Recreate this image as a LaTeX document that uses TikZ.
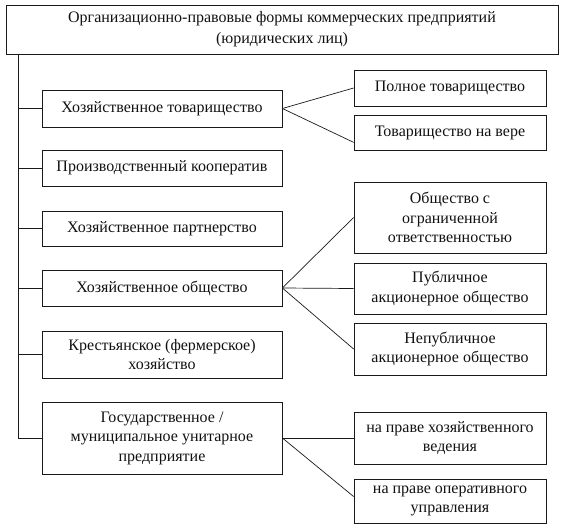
\documentclass[tikz,border=0pt]{standalone}
\usepackage{fontspec}
\setmainfont{Liberation Serif}
\usepackage{xcolor}
\usepackage{tikz}
\usetikzlibrary{positioning,calc}
\definecolor{LineDark}{HTML}{1A1A1A}
\definecolor{TextDark}{HTML}{111111}

\begin{document}
\begin{tikzpicture}[x=1pt,y=1pt,
    every node/.style={font=\fontsize{16}{19.5}\selectfont, text=TextDark},
    formbox/.style={draw=LineDark, line width=0.8pt, align=center, inner sep=0pt},
    leftbox/.style={formbox, minimum width=240pt},
    rightbox/.style={formbox, minimum width=192pt},
    link/.style={draw=LineDark, line width=0.7pt}]
      \useasboundingbox (0,0) rectangle (564,-530);
      % header
      \node[formbox, minimum width=552pt, minimum height=49pt,
            font=\fontsize{16}{21}\selectfont] (root) at (282,-29.5)
        {Организационно-правовые формы коммерческих предприятий\\(юридических лиц)};
      % left column
      \node[leftbox, minimum height=37pt] (tov)   at (162,-108.5) {Хозяйственное товарищество};
      \node[leftbox, minimum height=36pt] (koop)  at (162,-168)   {Производственный кооператив};
      \node[leftbox, minimum height=35pt] (partn) at (162,-228.5) {Хозяйственное партнерство};
      \node[leftbox, minimum height=36pt] (obsh)  at (162,-288)   {Хозяйственное общество};
      \node[leftbox, minimum height=47pt] (kfh)   at (162,-354.5) {Крестьянское (фермерское)\\хозяйство};
      \node[leftbox, minimum height=72pt] (gup)   at (162,-438)   {Государственное /\\муниципальное унитарное\\предприятие};
      % right column
      \node[rightbox, minimum height=36pt] (poln) at (450,-88)    {Полное товарищество};
      \node[rightbox, minimum height=35pt] (vera) at (450,-132.5) {Товарищество на вере};
      \node[rightbox, minimum height=71pt] (ooo)  at (450,-217.5) {Общество с\\ограниченной\\ответственностью};
      \node[rightbox, minimum height=51pt] (pao)  at (450,-288.5) {Публичное\\акционерное общество};
      \node[rightbox, minimum height=52pt] (npao) at (450,-349)   {Непубличное\\акционерное общество};
      \node[rightbox, minimum height=52pt] (hv)   at (450,-438)   {на праве хозяйственного\\ведения};
      \node[rightbox, minimum height=44pt] (ou)   at (450,-501)   {на праве оперативного\\управления};
      % trunk
      \coordinate (trunk) at (18,0);
      \draw[link] (root.south -| trunk) -- (gup.west -| trunk);
      \foreach \n in {tov,koop,partn,obsh,kfh,gup}
        \draw[link] (\n.west -| trunk) -- (\n.west);
      % branches
      \draw[link] (tov.east) -- (poln.west);
      \draw[link] (tov.east) -- ($(vera.west)!0.55!(vera.south west)$);
      \draw[link] (obsh.east) -- (ooo.west);
      \draw[link] (obsh.east) -- (pao.west);
      \draw[link] (obsh.east) -- (npao.west);
      \draw[link] (gup.east) -- (hv.west);
      \draw[link] (gup.east) -- ($(ou.west)!0.2!(ou.north west)$);
    \end{tikzpicture}
\end{document}
